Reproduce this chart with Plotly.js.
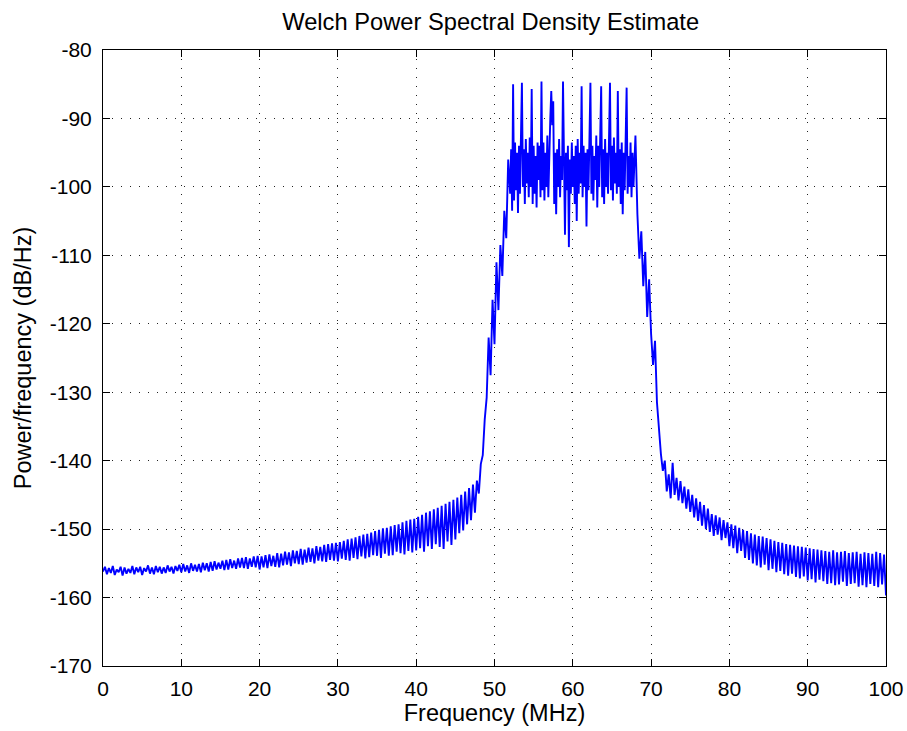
<!DOCTYPE html>
<html>
<head>
<meta charset="utf-8">
<script src="https://cdn.plot.ly/plotly-3.0.1.min.js"></script>
<style>
  html, body { margin: 0; padding: 0; background: #ffffff; }
  #plot { width: 907px; height: 731px; }
</style>
</head>
<body>
<div id="plot"></div>
<script>
// Welch PSD estimate (dB/Hz). The stopbands and transition bands are sampled
// every 0.25 MHz, the 52-68 MHz passband every 0.125 MHz.
const lowerStartMHz = 0;
const lowerStepMHz = 0.25;
const lowerBandDb = [
  // 0 - 9.75 MHz
  -156.2, -155.5, -156.6, -155.7, -156.4, -155.4, -156.7, -155.9,
  -156.3, -155.5, -156.8, -155.6, -156.5, -155.8, -156.4, -155.4,
  -156.6, -155.6, -156.3, -155.5, -156.7, -155.7, -156.2, -155.3,
  -156.5, -155.6, -156.6, -155.4, -156.3, -155.5, -156.5, -155.6,
  -156.4, -155.3, -156.2, -155.5, -156.5, -155.4, -156.1, -155.2,
  // 10 - 19.75 MHz
  -156.3, -155.1, -156.2, -155.3, -156.4, -155.0, -156.1, -155.2,
  -156.2, -155.1, -156.3, -154.9, -156.0, -155.0, -156.2, -154.8,
  -156.1, -154.7, -155.9, -154.9, -155.8, -154.6, -156.0, -154.5,
  -155.9, -154.4, -155.7, -154.6, -155.8, -154.3, -155.6, -154.2,
  -155.7, -154.1, -155.8, -154.3, -155.5, -154.0, -155.6, -153.9,
  // 20 - 29.75 MHz
  -155.9, -154.0, -155.6, -153.8, -155.7, -153.7, -155.4, -153.9,
  -155.5, -153.5, -155.6, -153.6, -155.3, -153.3, -155.2, -153.4,
  -155.4, -153.1, -155.0, -153.2, -155.1, -152.9, -155.2, -153.0,
  -154.9, -152.7, -154.8, -152.8, -155.0, -152.5, -154.6, -152.6,
  -154.7, -152.3, -154.8, -152.2, -154.5, -152.1, -154.6, -152.0,
  // 30 - 39.75 MHz
  -154.7, -151.9, -154.3, -151.7, -154.5, -151.5, -154.6, -151.4,
  -154.2, -151.2, -154.4, -151.0, -154.0, -150.8, -154.3, -150.7,
  -154.1, -150.5, -153.8, -150.3, -153.9, -150.1, -154.2, -149.9,
  -153.6, -149.8, -153.9, -149.6, -153.8, -149.4, -153.3, -149.3,
  -153.5, -149.0, -153.7, -148.8, -153.2, -148.6, -153.4, -148.5,
  // 40 - 44.75 MHz
  -153.1, -148.2, -152.8, -147.9, -153.3, -147.6, -152.5, -147.4,
  -152.9, -147.1, -152.2, -146.9, -152.6, -146.6, -152.9, -146.3,
  -151.8, -146.0, -152.3, -145.7,
  // 45 - 48.75 MHz
  -151.5, -145.4, -150.6, -145.0, -150.2, -144.5, -149.3, -144.0,
  -148.7, -143.5, -147.6, -142.9, -144.8, -140.5, -139.2, -134.0,
  // 49 - 51.75 MHz : lower transition band
  -130.8, -122.0, -127.5, -116.5, -123.0, -111.0, -118.0, -108.5,
  -113.0, -103.5, -107.5, -96.0
];

const passStartMHz = 52;
const passStepMHz = 0.125;
const passbandDb = [
  -101.0, -94.5, -103.5, -85.0, -102.0, -93.5, -100.5, -95.0,   // 52
  -103.8, -94.0, -101.0, -93.0, -84.8, -100.0, -94.5, -102.5,   // 53
  -93.0, -99.5, -95.0, -101.5, -92.8, -100.0, -85.7, -102.5,    // 54
  -94.0, -101.0, -95.5, -103.0, -93.5, -99.0, -94.0, -101.5,    // 55
  -84.6, -100.5, -93.5, -102.0, -95.0, -100.0, -92.5, -101.5,   // 56
  -94.0, -90.0, -86.0, -91.0, -87.5, -102.5, -95.0, -104.0,     // 57
  -94.5, -100.0, -93.0, -101.5, -95.5, -99.0, -84.6, -101.0,    // 58
  -107.0, -95.0, -100.5, -94.0, -108.8, -96.0, -101.0, -93.5,   // 59
  -100.0, -95.5, -102.5, -94.0, -105.0, -93.0, -101.0, -95.0,   // 60
  -99.5, -85.3, -101.5, -94.0, -100.0, -95.0, -105.8, -94.5,    // 61
  -100.5, -93.0, -84.8, -101.0, -94.0, -102.0, -95.5, -99.0,    // 62
  -92.5, -103.0, -94.0, -100.0, -92.5, -85.3, -101.5, -94.5,    // 63
  -102.5, -93.0, -100.0, -95.0, -101.0, -92.5, -84.8, -100.5,   // 64
  -94.0, -102.0, -92.8, -99.5, -95.0, -101.0, -86.0, -100.0,    // 65
  -94.5, -102.5, -93.5, -104.0, -95.0, -100.5, -94.0, -85.5,    // 66
  -101.0, -95.5, -100.0, -93.5, -101.5, -95.0, -100.0, -94.5,   // 67
  -92.5                                                          // 68
];

const upperStartMHz = 68.25;
const upperStepMHz = 0.25;
const upperBandDb = [
  // 68.25 - 72 MHz : upper transition band
  -104.0, -110.5, -106.5, -114.5, -109.5, -119.0, -113.5, -121.5,
  -126.0, -122.5, -131.5, -135.5, -139.0, -141.5, -140.0, -144.5,
  // 72.25 - 100 MHz
  -142.0, -145.5, -140.3,
  -145.0, -142.5, -145.8, -143.0, -146.2, -143.8, -147.0, -144.2,
  -147.5, -145.0, -148.3, -145.5, -148.8, -146.0, -149.5, -146.5,
  -150.0, -147.0, -150.4, -147.8, -151.0, -148.0, -150.8, -148.3,
  -151.6, -148.7, -151.3, -149.0, -152.5, -149.3, -152.8, -149.5,
  -153.5, -149.8, -153.2, -150.1, -154.2, -150.3, -154.5, -150.6,
  -155.0, -150.8, -155.3, -151.0, -155.6, -151.1, -155.2, -151.3,
  -156.0, -151.5, -155.8, -151.7, -156.3, -151.9, -156.1, -152.0,
  -156.6, -152.2, -156.8, -152.3, -156.5, -152.4, -157.0, -152.5,
  -157.2, -152.6, -156.9, -152.7, -157.5, -152.8, -157.3, -152.9,
  -157.8, -153.0, -157.4, -153.1, -157.6, -153.2, -158.0, -153.3,
  -157.9, -153.1, -158.2, -153.4, -158.1, -153.3, -157.7, -153.2,
  -158.3, -153.5, -158.0, -153.4, -157.9, -153.3, -158.4, -153.6,
  -158.2, -153.4, -158.5, -153.5, -158.0, -153.6, -158.3, -153.3,
  -158.5, -153.5, -158.1, -153.7,
  -159.7
];

const xTickVals = [0, 10, 20, 30, 40, 50, 60, 70, 80, 90, 100];
const xTickText = ["0", "10", "20", "30", "40", "50", "60", "70", "80", "90", "100"];
const yTickVals = [-170, -160, -150, -140, -130, -120, -110, -100, -90, -80];
const yTickText = ["-170", "-160", "-150", "-140", "-130", "-120", "-110", "-100", "-90", "-80"];

// frequency bins for each band segment, joined into one continuous spectrum
function bins(startMHz, stepMHz, values) {
  return values.map((_, i) => startMHz + i * stepMHz);
}
const freqMHz = [].concat(
  bins(lowerStartMHz, lowerStepMHz, lowerBandDb),
  bins(passStartMHz, passStepMHz, passbandDb),
  bins(upperStartMHz, upperStepMHz, upperBandDb)
);
const psdDb = [].concat(lowerBandDb, passbandDb, upperBandDb);

const font = "Liberation Sans, Arial, sans-serif";

const axisCommon = {
  showline: true,
  linecolor: "#000000",
  linewidth: 1,
  mirror: "ticks",
  ticks: "inside",
  ticklen: 7,
  tickwidth: 1,
  tickcolor: "#000000",
  showgrid: true,
  gridcolor: "#222222",
  gridwidth: 1,
  griddash: "1px,8px",
  zeroline: false,
  tickmode: "array",
  tickfont: { family: font, size: 21, color: "#000000" }
};

const trace = {
  type: "scatter",
  mode: "lines",
  x: freqMHz,
  y: psdDb,
  line: { color: "#0000ff", width: 1.9 },
  hoverinfo: "x+y"
};

const layout = {
  width: 907,
  height: 731,
  margin: { l: 103, r: 21, t: 50, b: 65 },
  paper_bgcolor: "#ffffff",
  plot_bgcolor: "#ffffff",
  showlegend: false,
  title: {
    text: "Welch Power Spectral Density Estimate",
    font: { family: font, size: 23.7, color: "#000000" },
    x: 0.541,
    xanchor: "center",
    y: 0.97,
    yanchor: "middle"
  },
  xaxis: Object.assign({}, axisCommon, {
    range: [0, 100],
    tickvals: xTickVals,
    ticktext: xTickText,
    ticklabelstandoff: 4,
    title: { text: "Frequency (MHz)", font: { family: font, size: 23.5, color: "#000000" }, standoff: 5 }
  }),
  yaxis: Object.assign({}, axisCommon, {
    range: [-170, -80],
    tickvals: yTickVals,
    ticktext: yTickText,
    ticklabelstandoff: 6,
    title: { text: "Power/frequency (dB/Hz)", font: { family: font, size: 23.5, color: "#000000" }, standoff: 11 }
  })
};

Plotly.newPlot("plot", [trace], layout, { displayModeBar: false, staticPlot: true });
</script>
</body>
</html>
